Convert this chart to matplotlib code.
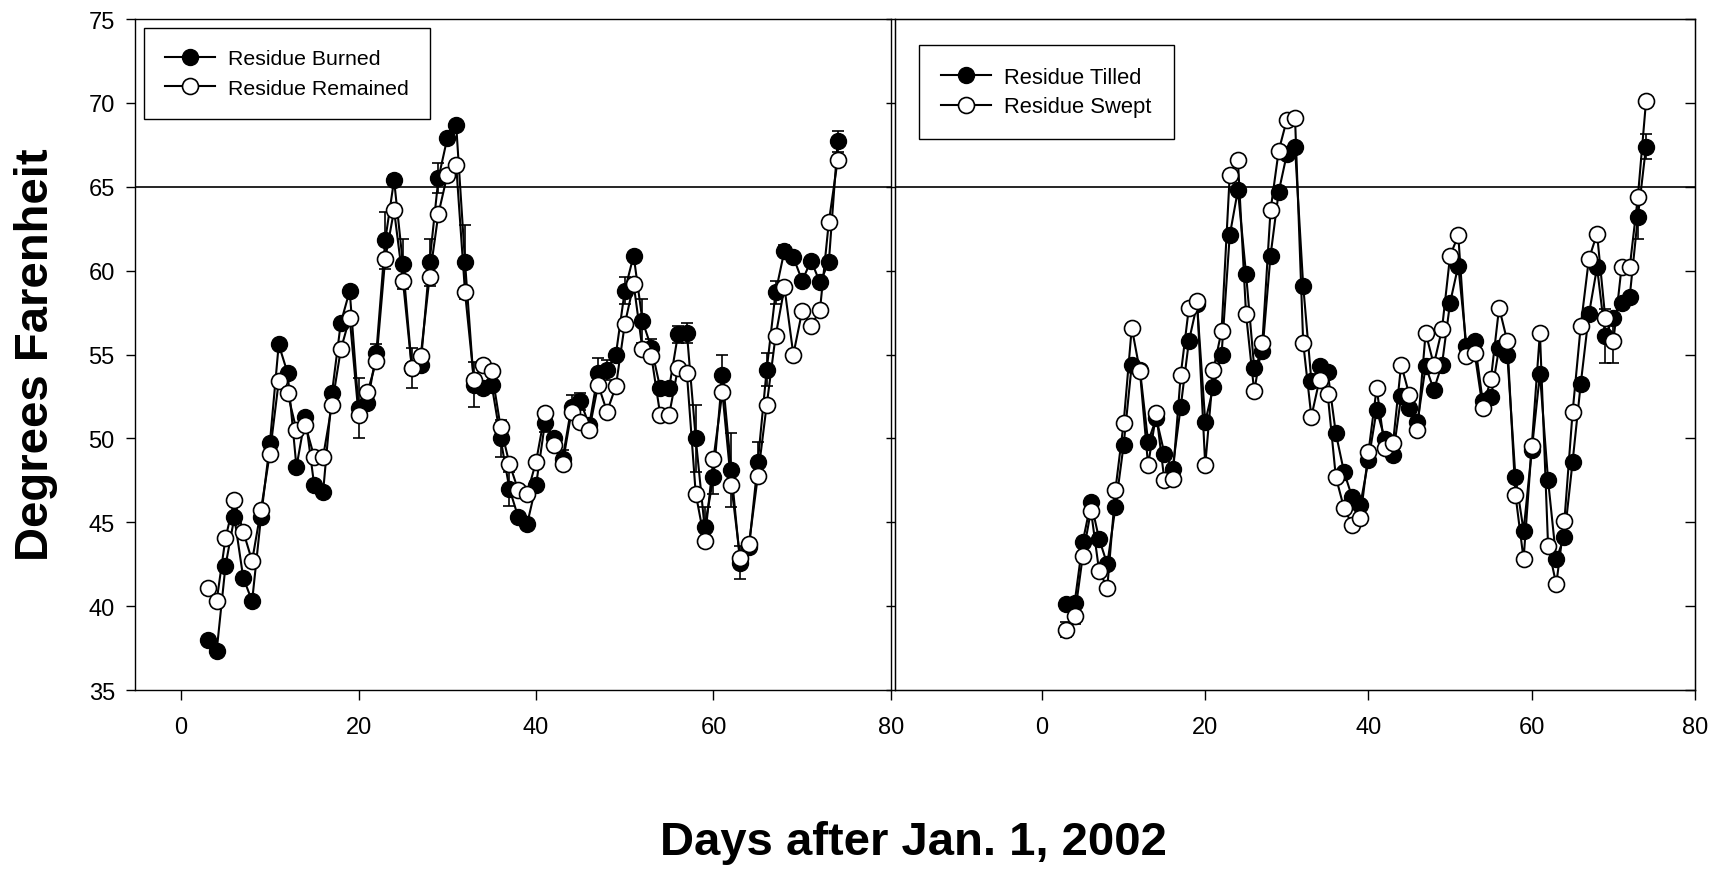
import numpy as np
import matplotlib
matplotlib.use('Agg')
import matplotlib.pyplot as plt
from matplotlib.lines import Line2D

plt.rcParams['font.family'] = ['Liberation Sans', 'DejaVu Sans']

days = [3, 4, 5, 6, 7, 8, 9, 10, 11, 12, 13, 14, 15, 16, 17, 18, 19, 20, 21, 22,
        23, 24, 25, 26, 27, 28, 29, 30, 31, 32, 33, 34, 35, 36, 37, 38, 39, 40, 41, 42,
        43, 44, 45, 46, 47, 48, 49, 50, 51, 52, 53, 54, 55, 56, 57, 58, 59, 60, 61, 62,
        63, 64, 65, 66, 67, 68, 69, 70, 71, 72, 73, 74]

# left panel
burned = [38.0, 37.3, 42.4, 45.3, 41.7, 40.3, 45.3, 49.7, 55.6, 53.9, 48.3, 51.3, 47.2, 46.8, 52.7, 56.9, 58.8, 51.8, 52.1, 55.1,
          61.8, 65.4, 60.4, 54.2, 54.4, 60.5, 65.5, 67.9, 68.7, 60.5, 53.2, 53.0, 53.2, 50.0, 47.0, 45.3, 44.9, 47.2, 50.9, 50.0,
          48.8, 51.9, 52.2, 50.8, 53.9, 54.1, 55.0, 58.8, 60.9, 57.0, 55.4, 53.0, 53.0, 56.2, 56.3, 50.0, 44.7, 47.7, 53.8, 48.1,
          42.6, 43.5, 48.6, 54.1, 58.7, 61.2, 60.8, 59.4, 60.6, 59.3, 60.5, 67.7]
burned_err = [0, 0, 0, 0, 0, 0, 0, 0, 0, 0, 0, 0, 0, 0, 0, 0, 0, 1.8, 0, 0.5,
              1.7, 0.3, 1.5, 1.2, 0, 1.4, 0.9, 0, 0, 2.2, 1.35, 0, 0, 1.1, 1.0, 0, 0, 0, 0.5, 0,
              0.5, 0.7, 0.5, 0, 0.9, 0.6, 0, 0.8, 0, 1.3, 0.5, 0, 0, 0.5, 0.6, 2.0, 1.2, 1.0, 1.2, 2.2,
              1.0, 0, 1.2, 1.0, 0.7, 0.3, 0, 0, 0, 0, 0, 0.6]
remained = [41.1, 40.3, 44.05, 46.3, 44.45, 42.7, 45.75, 49.1, 53.4, 52.7, 50.5, 50.8, 48.9, 48.9, 52.0, 55.3, 57.2, 51.4, 52.75, 54.6,
            60.7, 63.6, 59.4, 54.2, 54.9, 59.6, 63.4, 65.7, 66.3, 58.7, 53.5, 54.4, 54.0, 50.7, 48.5, 46.9, 46.7, 48.6, 51.5, 49.6,
            48.5, 51.6, 51.0, 50.5, 53.2, 51.6, 53.1, 56.8, 59.2, 55.3, 54.9, 51.4, 51.4, 54.2, 53.9, 46.7, 43.9, 48.8, 52.75, 47.25,
            42.9, 43.7, 47.75, 52.0, 56.1, 59.0, 55.0, 57.6, 56.7, 57.65, 62.9, 66.6]

# right panel
tilled = [40.1, 40.2, 43.85, 46.2, 44.0, 42.5, 45.9, 49.6, 54.4, 54.1, 49.8, 51.2, 49.1, 48.2, 51.9, 55.8, 58.0, 51.0, 53.05, 55.0,
          62.1, 64.8, 59.8, 54.2, 55.2, 60.9, 64.7, 66.95, 67.35, 59.1, 53.45, 54.3, 53.95, 50.3, 48.0, 46.5, 46.05, 48.7, 51.7, 49.97,
          49.0, 52.5, 51.8, 50.96, 54.3, 52.9, 54.4, 58.1, 60.3, 55.5, 55.8, 52.2, 52.45, 55.4, 55.0, 47.7, 44.5, 49.3, 53.85, 47.5,
          42.8, 44.15, 48.6, 53.25, 57.4, 60.2, 56.1, 57.2, 58.1, 58.45, 63.2, 67.4]
tilled_err = [0] * 66 + [1.6, 0, 0, 0, 1.3, 0.75]
swept = [38.6, 39.4, 43.0, 45.7, 42.1, 41.1, 46.95, 50.9, 56.6, 54.0, 48.4, 51.5, 47.5, 47.6, 53.8, 57.8, 58.2, 48.4, 54.1, 56.4,
         65.7, 66.6, 57.4, 52.8, 55.7, 63.6, 67.15, 69.0, 69.1, 55.7, 51.3, 53.5, 52.65, 47.7, 45.85, 44.85, 45.25, 49.2, 53.0, 49.4,
         49.7, 54.4, 52.6, 50.5, 56.3, 54.4, 56.5, 60.9, 62.1, 54.9, 55.1, 51.8, 53.55, 57.8, 55.8, 46.65, 42.8, 49.55, 56.3, 43.6,
         41.3, 45.1, 51.55, 56.7, 60.7, 62.2, 57.2, 55.8, 60.2, 60.2, 64.4, 70.1]
swept_err = [0.45, 0.45] + [0] * 65 + [1.3, 0, 0, 0, 0]

yt = [35, 40, 45, 50, 55, 60, 65, 70, 75]

fig = plt.figure(figsize=(17.13, 8.70), dpi=100)
ax1 = fig.add_axes([0.0788, 0.2057, 0.4413, 0.7713])
ax2 = fig.add_axes([0.5225, 0.2057, 0.4670, 0.7713])

def draw(ax, s1, e1, s2, e2, names, fs, lsp, hl, anchor):
    ax.errorbar(days, s1, yerr=e1, fmt='-o', color='black', mfc='black', mec='black',
                ms=11.5, lw=1.5, elinewidth=1.2, capsize=4.5, capthick=1.2, zorder=2)
    ax.errorbar(days, s2, yerr=e2, fmt='-o', color='black', mfc='white', mec='black', mew=1.2,
                ms=11.5, lw=1.5, elinewidth=1.2, capsize=4.5, capthick=1.2, zorder=3)
    ax.axhline(65, color='black', lw=1.2, zorder=1)
    ax.set_ylim(35, 75)
    ax.set_yticks(yt)
    ax.set_xticks([0, 20, 40, 60, 80])
    ax.tick_params(axis='x', direction='out', length=7, width=1, labelsize=17, pad=12)
    for sp in ax.spines.values():
        sp.set_linewidth(1.0)
    handles = [Line2D([], [], color='black', lw=1.5, marker='o', mfc='black', mec='black', ms=11.5),
               Line2D([], [], color='black', lw=1.5, marker='o', mfc='white', mec='black', mew=1.2, ms=11.5)]
    leg = ax.legend(handles, names, loc='upper left', bbox_to_anchor=anchor, borderaxespad=0,
                    fontsize=fs, fancybox=False, edgecolor='black', framealpha=1,
                    handlelength=hl, borderpad=1.0, labelspacing=lsp, handletextpad=0.6)
    leg.get_frame().set_linewidth(1.0)

draw(ax1, burned, burned_err, remained, [0] * 72, ['Residue Burned', 'Residue Remained'],
     15.3, 0.5, 2.35, (0.012, 0.9866))
draw(ax2, tilled, tilled_err, swept, swept_err, ['Residue Tilled', 'Residue Swept'],
     15.8, 0.4, 2.3, (0.0296, 0.9617))

ax1.set_xlim(-5.2, 80)
ax1.tick_params(axis='y', direction='out', length=6.5, width=1, labelsize=17, pad=8)

ax2.set_xlim(-18, 80)
ax2.tick_params(axis='y', direction='out', length=6.5, width=1, labelleft=False)
ax2r = ax2.twinx()
ax2r.set_ylim(35, 75)
ax2r.set_yticks(yt)
ax2r.tick_params(axis='y', direction='in', length=7, width=1, labelright=False)

fig.text(0.021, 0.592, 'Degrees Farenheit', rotation=90, fontsize=34, fontweight='bold',
         ha='center', va='center')
fig.text(0.533, 0.031, 'Days after Jan. 1, 2002', fontsize=34, fontweight='bold',
         ha='center', va='center')

fig.savefig('out.png', dpi=100)
